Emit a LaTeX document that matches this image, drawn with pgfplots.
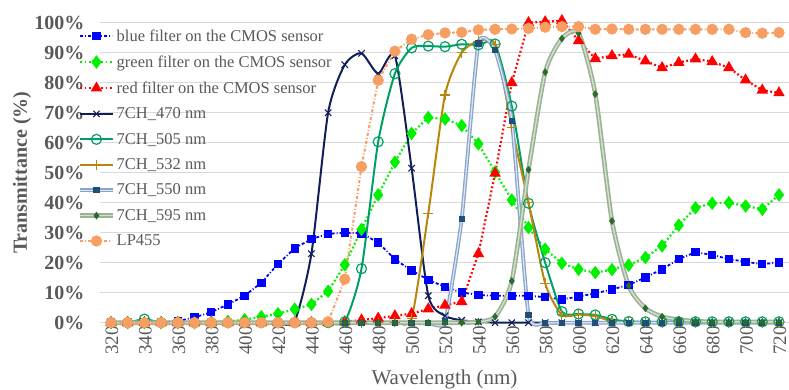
\documentclass[border=0pt]{standalone}
\usepackage{pgfplots}
\pgfplotsset{compat=1.18}
\usepackage{pgfplotstable}
\usepackage{fontspec}
\setmainfont{Liberation Serif}
\definecolor{txt}{HTML}{595959}
\definecolor{gridc}{HTML}{D9D9D9}
\definecolor{cblue}{HTML}{0000FF}
\definecolor{cgreen}{HTML}{00F000}
\definecolor{cred}{HTML}{FF0000}
\definecolor{cnavy}{HTML}{101E5A}
\definecolor{cteal}{HTML}{00A064}
\definecolor{cgold}{HTML}{B8860B}
\definecolor{csteel}{HTML}{8AA5CC}
\definecolor{csteelin}{HTML}{DCE5F1}
\definecolor{csteelmk}{HTML}{1F4E79}
\definecolor{colive}{HTML}{9BB394}
\definecolor{colivein}{HTML}{D3DFD0}
\definecolor{colivemk}{HTML}{2D6A2D}
\definecolor{corange}{HTML}{F79E62}

\pgfplotstableread{
wl   blue  green red   cA    cB    cC    cD    cE    lp
320  0.2   0     0     0     0     0     0     0     0
330  0.2   0     0     0     0     0     0     0     0
340  0.2   0     0     0     1.2   0     0     0     0
350  0.2   0     0     0     0     0     0     0     0
360  0.5   0     0     0     0     0     0     0     0
370  1.8   0     0     0     0     0     0     0     0
380  3.5   0.2   0     0     0     0     0     0     0
390  6.1   0.4   0     0     0     0     0     0     0
400  9.0   1.0   0     0     0     0     0     0     0
410  13.3  2.0   0     0     0     0     0     0     0
420  19.6  3.0   0     0     0     0     0     0     0
430  24.8  4.5   0     0.5   0     0     0     0     0
440  27.9  6.1   0     23    0     0     0     0     0
450  29.6  10.5  0     70    0     0     0     0     0.3
460  30.0  19.3  0.3   86    0.3   0     0     0     14.5
470  29.8  31.1  0.9   89.8  18    0     0     0     52
480  26.7  42.6  1.5   83    60.3  0     0     0     80.8
490  21.1  53.5  2.3   89    83    0.2   0     0     90.5
500  17.4  63.1  3.0   51.5  91.6  1.5   0     0     94.5
510  14.3  68.4  4.6   9     92.2  36.5  0     0     96.0
520  11.9  67.9  5.8   2.3   92.0  75.9  0.4   0     96.6
530  10.1  65.7  7.0   0.8   92.8  90.0  34.6  0     96.8
540  9.2   59.6  23.0  0.3   92.6  93.8  93.1  0.3   97.6
550  9.0   50.2  49.8  0     92.9  92.6  90.8  2.0   97.8
560  9.0   40.9  80.0  0     72.2  65.1  67.3  13.9  97.9
570  9.0   31.7  100.0 0     39.8  40.0  2.6   51.0  98.1
580  8.5   24.5  100.3 0     20.0  13.1  0     83.5  98.5
590  7.8   19.8  100.7 0     3.7   2.6   0     94.7  98.7
600  8.7   17.8  94.0  0     2.9   2.7   0     96.5  98.7
610  9.8   16.7  88.0  0     2.6   2.2   0     76.2  97.8
620  11.1  17.7  89.0  0     1.1   0.5   0     33.9  97.9
630  12.6  19.2  89.5  0     0.4   0.2   0     12.3  97.8
640  15.1  21.7  87.2  0     0.3   0     0     4.8   97.8
650  17.8  25.6  85.0  0     0.3   0     0     2.0   97.8
660  21.2  32.5  86.7  0     0.3   0     0     1.0   97.8
670  23.5  38.3  87.9  0     0.3   0     0     0.5   97.8
680  22.6  39.8  87.0  0     0.3   0     0     0.3   97.8
690  21.2  40.0  85.0  0     0.3   0     0     0.3   97.8
700  20.3  38.9  80.9  0     0.3   0     0     0.3   96.7
710  19.5  37.8  77.5  0     0.3   0     0     0.3   96.5
720  20.1  42.6  76.6  0     0.3   0     0     0.3   96.7
}\data

\begin{document}
\begin{tikzpicture}
\useasboundingbox (-100bp,-67.3bp) rectangle (689bp,322.7bp);
\begin{axis}[
  at={(0,0)}, anchor=south west,
  scale only axis, width=689bp, height=300bp,
  xmin=313.4, xmax=726, ymin=0, ymax=100,
  clip=false,
  axis line style={draw=none},
  major tick length=0,
  ymajorgrids, grid style={draw=gridc, line width=1.2bp},
  ytick={0,10,...,100},
  xtick={320,340,...,720},
  /pgf/number format/assume math mode=true,
  /pgf/number format/1000 sep={},
  yticklabel={\pgfmathprintnumber{\tick}\%},
  yticklabel style={font=\fontsize{20bp}{24bp}\selectfont\bfseries, color=txt, xshift=-12bp},
  xticklabel style={font=\fontsize{19bp}{22bp}\selectfont, color=txt, rotate=90, anchor=east, yshift=-1bp},
  xlabel={Wavelength (nm)},
  ylabel={Transmittance (\%)},
  xlabel style={font=\fontsize{21bp}{24bp}\selectfont, color=txt, at={(axis description cs:0.5,0)}, anchor=center, yshift=-57bp},
  ylabel style={font=\fontsize{20bp}{24bp}\selectfont\bfseries, color=txt, at={(axis description cs:-0.113,0.5)}, anchor=center},
  legend style={at={(axis description cs:-0.032,0.985)}, anchor=north west, draw=none, fill=none,
    font=\fontsize{16.5bp}{19.5bp}\selectfont\color{txt}, row sep=9bp, inner sep=0pt, cells={anchor=west}},
  legend image code/.code={\draw[mark repeat=2,mark phase=2] plot coordinates {(0bp,0bp) (16bp,0bp) (32bp,0bp)};},
]
\addplot[color=cblue, line width=1.8bp, dash pattern=on 3bp off 2bp on 1bp off 2bp, mark=square*, mark size=3.3bp, mark options={solid}] table[x=wl,y=blue]{\data};
\addlegendentry{blue filter on the CMOS sensor}
\addplot[color=cgreen, line width=2.2bp, dash pattern=on 1.8bp off 2.4bp, mark=diamond*, mark size=5bp, mark options={solid}] table[x=wl,y=green]{\data};
\addlegendentry{green filter on the CMOS sensor}
\addplot[color=cred, line width=2.2bp, dash pattern=on 1.8bp off 2.4bp, mark=triangle*, mark size=4.5bp, mark options={solid}] table[x=wl,y=red]{\data};
\addlegendentry{red filter on the CMOS sensor}
\addplot[color=cnavy, line width=2bp, smooth, tension=0.4, mark=x, mark size=4.5bp, mark options={line width=1.1bp}] table[x=wl,y=cA]{\data};
\addlegendentry{7CH\_470 nm}
\addplot[color=cteal, line width=2bp, smooth, tension=0.4, mark=o, mark size=5bp, mark options={line width=1.2bp, fill=none}] table[x=wl,y=cB]{\data};
\addlegendentry{7CH\_505 nm}
\addplot[color=cgold, line width=2bp, smooth, tension=0.4, mark=+, mark size=5bp, mark options={line width=1.1bp}] table[x=wl,y=cC]{\data};
\addlegendentry{7CH\_532 nm}
\addplot[draw=csteel, double=csteelin, double distance=1.2bp, line width=1.3bp, smooth, tension=0.3, mark=square*, mark size=2.5bp, mark options={draw=csteelmk, fill=csteelmk}] table[x=wl,y=cD]{\data};
\addlegendentry{7CH\_550 nm}
\addplot[draw=colive, double=colivein, double distance=1.4bp, line width=1.6bp, smooth, tension=0.4, mark=diamond*, mark size=2.6bp, mark options={draw=colivemk, fill=colivemk}] table[x=wl,y=cE]{\data};
\addlegendentry{7CH\_595 nm}
\addplot[color=corange, line width=2bp, dash pattern=on 3bp off 2bp on 1bp off 2bp, mark=*, mark size=4.6bp, mark options={solid}] table[x=wl,y=lp]{\data};
\addlegendentry{LP455}
\end{axis}
\end{tikzpicture}
\end{document}
